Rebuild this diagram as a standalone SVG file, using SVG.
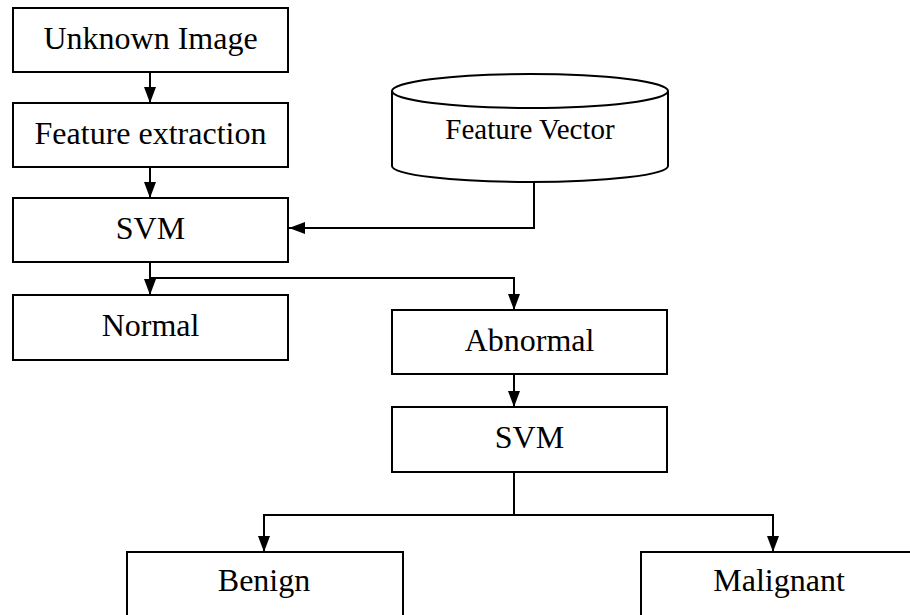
<svg xmlns="http://www.w3.org/2000/svg" width="910" height="615" viewBox="0 0 910 615">
<style>
.box{fill:#fff;stroke:#000;stroke-width:2}
.lbl{font-family:"Liberation Serif","Times New Roman",serif;font-size:32px;fill:#000;text-anchor:middle}
.small{font-size:29px}
.con{fill:none;stroke:#000;stroke-width:2}
</style>
<defs>
<marker id="ah" markerUnits="userSpaceOnUse" viewBox="0 0 16 12" markerWidth="16" markerHeight="12" refX="16" refY="6" orient="auto">
<path d="M0,0 L16,6 L0,12 z" fill="#000"/>
</marker>
</defs>
<rect width="910" height="615" fill="#fff"/>
<g id="unknown-image"><rect class="box" x="13" y="8" width="275" height="64"/><text class="lbl" x="150.5" y="49">Unknown Image</text></g>
<g id="feature-extraction"><rect class="box" x="13" y="103" width="275" height="64"/><text class="lbl" x="150.5" y="144">Feature extraction</text></g>
<g id="svm1"><rect class="box" x="13" y="198" width="275" height="64"/><text class="lbl" x="150.5" y="239">SVM</text></g>
<g id="normal"><rect class="box" x="13" y="295" width="275" height="65"/><text class="lbl" x="150.5" y="336">Normal</text></g>
<g id="feature-vector">
<path class="box" d="M392,91 V166 A138,16 0 0 0 668,166 V91"/>
<ellipse class="box" cx="530" cy="91" rx="138" ry="17"/>
<text class="lbl small" x="530" y="139">Feature Vector</text>
</g>
<g id="abnormal"><rect class="box" x="392" y="310" width="275" height="64"/><text class="lbl" x="529.5" y="351">Abnormal</text></g>
<g id="svm2"><rect class="box" x="392" y="407" width="275" height="65"/><text class="lbl" x="529.5" y="448">SVM</text></g>
<g id="benign"><rect class="box" x="127" y="552" width="276" height="80"/><text class="lbl" x="264" y="591">Benign</text></g>
<g id="malignant"><rect class="box" x="641" y="552" width="290" height="80"/><text class="lbl" x="779" y="591">Malignant</text></g>
<g id="connectors">
<path class="con" d="M150,72 V103" marker-end="url(#ah)"/>
<path class="con" d="M150,167 V198" marker-end="url(#ah)"/>
<path class="con" d="M534,182 V228 H289" marker-end="url(#ah)"/>
<path class="con" d="M150,262 V295" marker-end="url(#ah)"/>
<path class="con" d="M150,278 H514 V310" marker-end="url(#ah)"/>
<path class="con" d="M514,374 V407" marker-end="url(#ah)"/>
<path class="con" d="M514,472 V515"/>
<path class="con" d="M514,515 H264 V552" marker-end="url(#ah)"/>
<path class="con" d="M514,515 H773 V552" marker-end="url(#ah)"/>
</g>
</svg>
